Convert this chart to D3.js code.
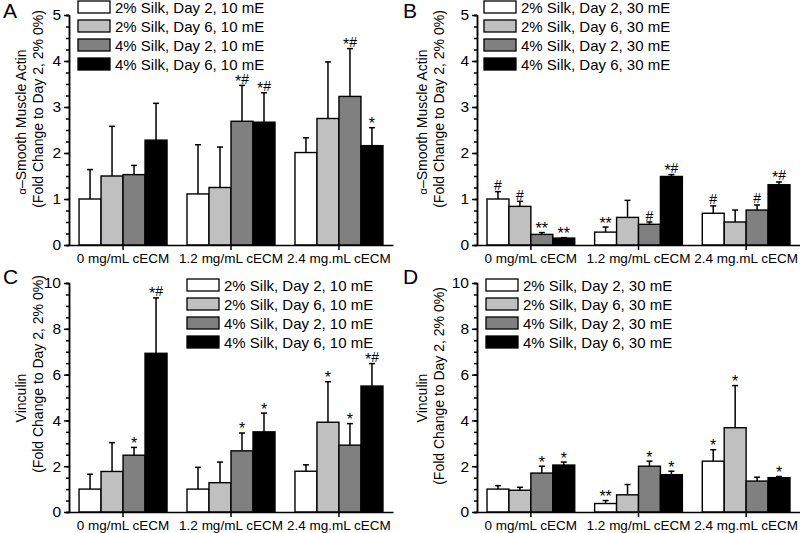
<!DOCTYPE html>
<html>
<head>
<meta charset="utf-8">
<script src="https://cdn.jsdelivr.net/npm/d3@7/dist/d3.min.js"></script>
<style>
  body { margin: 0; background: #fff; }
  svg { font-family: "Liberation Sans", Arial, sans-serif; }
</style>
</head>
<body>
<svg id="chart" width="800" height="533"></svg>
<script>
// x categories, shared by all four panels
var categories = ["0 mg/mL cECM", "1.2 mg/mL cECM", "2.4 mg.mL cECM"];

// legend names
var series10 = ["2% Silk, Day 2, 10 mE", "2% Silk, Day 6, 10 mE", "4% Silk, Day 2, 10 mE", "4% Silk, Day 6, 10 mE"];
var series30 = ["2% Silk, Day 2, 30 mE", "2% Silk, Day 6, 30 mE", "4% Silk, Day 2, 30 mE", "4% Silk, Day 6, 30 mE"];
var fills = ["#ffffff", "#c0c0c0", "#808080", "#000000"];

// each row is one series, each column one category
// A: alpha-SMA, 10 mE
var meanA = [[1.00, 1.11, 2.01], [1.50, 1.25, 2.75], [1.53, 2.69, 3.23], [2.28, 2.67, 2.16]];
var errA  = [[0.64, 1.07, 0.32], [1.08, 0.88, 1.23], [0.20, 0.78, 1.04], [0.80, 0.64, 0.39]];
var sigA  = [["", "", ""], ["", "", ""], ["", "*#", "*#"], ["", "*#", "*"]];

// B: alpha-SMA, 30 mE
var meanB = [[1.00, 0.28, 0.69], [0.84, 0.60, 0.50], [0.23, 0.45, 0.76], [0.15, 1.49, 1.31]];
var errB  = [[0.16, 0.11, 0.16], [0.11, 0.37, 0.26], [0.04, 0.05, 0.11], [0.01, 0.04, 0.06]];
var sigB  = [["#", "**", "#"], ["#", "", ""], ["**", "#", "#"], ["**", "*#", "*#"]];

// C: vinculin, 10 mE
var meanC = [[1.00, 1.00, 1.78], [1.77, 1.28, 3.92], [2.48, 2.67, 2.92], [6.93, 3.50, 5.50]];
var errC  = [[0.65, 0.95, 0.28], [1.26, 0.90, 1.77], [0.34, 0.78, 0.94], [2.42, 0.82, 0.98]];
var sigC  = [["", "", ""], ["", "", "*"], ["*", "*", "*"], ["*#", "*", "*#"]];

// D: vinculin, 30 mE
var meanD = [[1.00, 0.37, 2.22], [0.95, 0.75, 3.68], [1.70, 2.00, 1.35], [2.05, 1.63, 1.50]];
var errD  = [[0.15, 0.13, 0.50], [0.13, 0.45, 1.84], [0.30, 0.22, 0.17], [0.13, 0.15, 0.05]];
var sigD  = [["", "**", "*"], ["", "", "*"], ["*", "*", ""], ["*", "*", "*"]];

var svg = d3.select("#chart");

function drawPanel(p) {
    var g = svg.append("g");

    var x0 = d3.scaleBand()
        .domain(categories)
        .range([p.left, p.right])
        .paddingInner(0.185)
        .paddingOuter(0.093);

    var x1 = d3.scaleBand()
        .domain(d3.range(4))
        .range([0, x0.bandwidth()]);

    var y = d3.scaleLinear()
        .domain([0, p.max])
        .range([p.bottom, p.top]);

    // flatten the rows into one list of bars
    var bars = [];
    p.mean.forEach(function(row, s) {
        row.forEach(function(v, c) {
            bars.push({ s: s, cat: categories[c], mean: v, err: p.err[s][c], sig: p.sig[s][c] });
        });
    });

    g.selectAll("rect.bar")
        .data(bars)
        .enter()
        .append("rect")
        .attr("class", "bar")
        .attr("x", function(d) { return x0(d.cat) + x1(d.s); })
        .attr("y", function(d) { return y(d.mean); })
        .attr("width", x1.bandwidth())
        .attr("height", function(d) { return y(0) - y(d.mean); })
        .attr("fill", function(d) { return fills[d.s]; })
        .attr("stroke", "#000")
        .attr("stroke-width", 1.4);

    // upper error bars
    var cx = function(d) { return x0(d.cat) + x1(d.s) + x1.bandwidth() / 2; };
    g.selectAll("line.err")
        .data(bars)
        .enter()
        .append("line")
        .attr("x1", cx).attr("x2", cx)
        .attr("y1", function(d) { return y(d.mean); })
        .attr("y2", function(d) { return y(d.mean + d.err); })
        .attr("stroke", "#000")
        .attr("stroke-width", 1.5);

    g.selectAll("line.cap")
        .data(bars)
        .enter()
        .append("line")
        .attr("x1", function(d) { return cx(d) - 3; })
        .attr("x2", function(d) { return cx(d) + 3; })
        .attr("y1", function(d) { return y(d.mean + d.err); })
        .attr("y2", function(d) { return y(d.mean + d.err); })
        .attr("stroke", "#000")
        .attr("stroke-width", 1.5);

    // significance marks, # sits a little higher than *
    var marks = g.selectAll("text.sig")
        .data(bars.filter(function(d) { return d.sig != ""; }))
        .enter()
        .append("text")
        .attr("x", cx)
        .attr("y", function(d) { return y(d.mean + d.err) - 1.5; })
        .attr("text-anchor", "middle");

    marks.each(function(d) {
        var t = d3.select(this);
        var stars = d.sig.replace("#", "");
        var hash = d.sig.indexOf("#") >= 0;
        if (stars) t.append("tspan").text(stars).attr("dy", hash ? 3 : 3).style("font-size", "16px");
        if (hash) t.append("tspan").text("#").attr("dy", stars ? -3 : 0).style("font-size", "14px");
    });

    // axes
    var yMinor = d3.axisLeft(y)
        .tickValues(d3.range(0, p.max + 0.001, p.step / 4))
        .tickSize(3)
        .tickFormat("");
    g.append("g")
        .attr("transform", "translate(" + p.left + ",0)")
        .call(yMinor);

    var yAxis = d3.axisLeft(y)
        .tickValues(d3.range(0, p.max + 0.001, p.step))
        .tickSize(5)
        .tickSizeOuter(0)
        .tickPadding(3)
        .tickFormat(d3.format("d"));
    g.append("g")
        .attr("transform", "translate(" + p.left + ",0)")
        .call(yAxis)
        .call(function(a) { a.selectAll("text").style("font-size", "15.5px").attr("fill", "#000"); });

    var xAxis = d3.axisBottom(x0)
        .tickSize(5)
        .tickSizeOuter(0)
        .tickPadding(3);
    g.append("g")
        .attr("transform", "translate(0," + p.bottom + ")")
        .call(xAxis)
        .call(function(a) { a.selectAll("text").style("font-size", "13.5px").attr("fill", "#000"); });

    g.selectAll(".domain, .tick line").attr("stroke", "#000").attr("stroke-width", 1.5);

    // y title, two lines
    var t1 = g.append("text")
        .attr("transform", "translate(" + p.tx1 + "," + p.ty1 + ") rotate(-90)")
        .attr("text-anchor", "middle")
        .style("font-size", "14px");
    if (p.alpha) {
        t1.append("tspan").text("\u03b1").style("font-size", "11px");
        t1.append("tspan").text("\u2013Smooth Muscle Actin");
    } else {
        t1.text("Vinculin");
    }
    g.append("text")
        .attr("transform", "translate(" + p.tx2 + "," + p.ty2 + ") rotate(-90)")
        .attr("text-anchor", "middle")
        .style("font-size", "14px")
        .text("(Fold Change to Day 2, 2% 0%)");

    // panel letter
    g.append("text")
        .attr("x", p.lx).attr("y", p.ly)
        .style("font-size", "21px")
        .text(p.letter);

    // legend
    var leg = g.selectAll("g.leg")
        .data(p.names)
        .enter()
        .append("g")
        .attr("transform", function(d, i) { return "translate(" + p.legX + "," + (p.legY + i * 19) + ")"; });
    leg.append("rect")
        .attr("width", 32).attr("height", 12)
        .attr("fill", function(d, i) { return fills[i]; })
        .attr("stroke", "#000")
        .attr("stroke-width", 1.3);
    leg.append("text")
        .attr("x", 37).attr("y", 11.5)
        .style("font-size", "15px")
        .text(function(d) { return d; });
}

drawPanel({ letter: "A", lx: 3, ly: 18, left: 69, right: 393, top: 15, bottom: 245, max: 5, step: 1,
            mean: meanA, err: errA, sig: sigA, names: series10, legX: 78, legY: 1,
            alpha: true, tx1: 26, ty1: 122, tx2: 43, ty2: 109 });
drawPanel({ letter: "B", lx: 403, ly: 18, left: 477, right: 800, top: 15, bottom: 245, max: 5, step: 1,
            mean: meanB, err: errB, sig: sigB, names: series30, legX: 484, legY: 1,
            alpha: true, tx1: 427, ty1: 122, tx2: 444, ty2: 109 });
drawPanel({ letter: "C", lx: 3, ly: 284, left: 69, right: 393, top: 283, bottom: 512, max: 10, step: 2,
            mean: meanC, err: errC, sig: sigC, names: series10, legX: 187, legY: 279,
            alpha: false, tx1: 26, ty1: 398, tx2: 43, ty2: 374 });
drawPanel({ letter: "D", lx: 403, ly: 284, left: 477, right: 800, top: 283, bottom: 512, max: 10, step: 2,
            mean: meanD, err: errD, sig: sigD, names: series30, legX: 486, legY: 279,
            alpha: false, tx1: 427, ty1: 398, tx2: 444, ty2: 386 });
</script>
</body>
</html>
